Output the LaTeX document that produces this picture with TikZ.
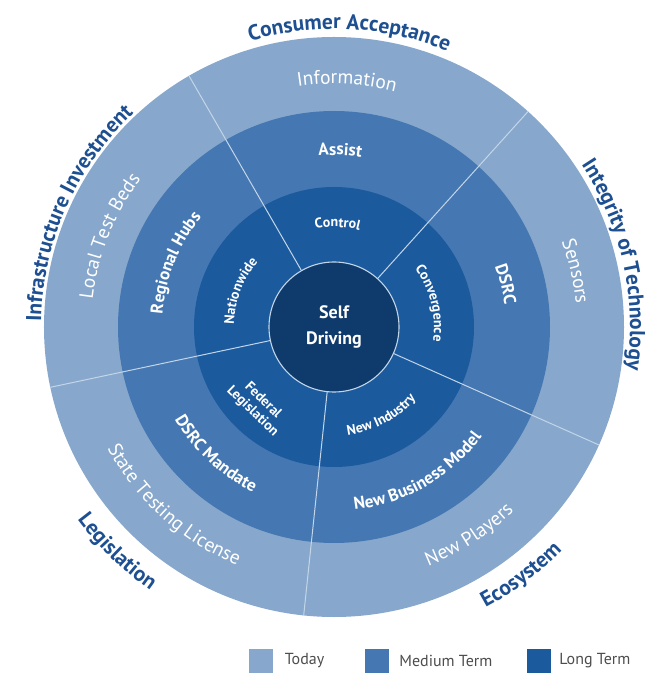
\documentclass[tikz,border=0pt]{standalone}
\usepackage{fontspec}
\setmainfont{PT Sans}
\usetikzlibrary{decorations.text, positioning}

\definecolor{todayblue}{HTML}{87A8CC}
\definecolor{mediumblue}{HTML}{4578B2}
\definecolor{longblue}{HTML}{1C5A9E}
\definecolor{coreblue}{HTML}{0E3B6C}
\definecolor{catblue}{HTML}{1D4F91}
\definecolor{splitline}{HTML}{C3D5E8}
\definecolor{legendgray}{HTML}{4D4D4D}

\newcommand{\todayfont}{\color{white}\fontsize{19.5}{21}\selectfont}
\newcommand{\mediumfont}{\color{white}\bfseries\fontsize{17.2}{19}\selectfont}
\newcommand{\longfont}{\color{white}\bfseries\fontsize{14}{16}\selectfont}
\newcommand{\catfont}{\color{catblue}\bfseries\fontsize{21.5}{23}\selectfont}

% text along a clockwise arc (letters stand outward): angle, baseline radius, font, text
\newcommand{\cwlabel}[4]{%
  \path[decorate, decoration={text along path, text align=center, text={|#3|#4}}]
    ({#1+60}:#2pt) arc[start angle={#1+60}, end angle={#1-60}, radius=#2pt];}
% text along a counterclockwise arc (letters stand inward)
\newcommand{\ccwlabel}[4]{%
  \path[decorate, decoration={text along path, text align=center, text={|#3|#4}}]
    ({#1-60}:#2pt) arc[start angle={#1-60}, end angle={#1+60}, radius=#2pt];}

\tikzset{
  core/.style={circle, fill=coreblue, draw=splitline, line width=1.1pt,
    minimum size=130pt, inner sep=0pt, text=white, align=center,
    font=\bfseries\fontsize{18}{26}\selectfont},
  legendbox/.style={minimum size=24pt, inner sep=0pt},
  legendtext/.style={inner sep=0pt, text=legendgray, font=\fontsize{16}{18}\selectfont}
}

\begin{document}
\begin{tikzpicture}
  \useasboundingbox (-334pt,-347pt) rectangle (330pt,327pt);

  % Rings
  \fill[todayblue] (0,0) circle[radius=290pt];
  \fill[mediumblue] (0,0) circle[radius=216pt];
  \fill[longblue] (0,0) circle[radius=140pt];
  \node[core] (core) at (0,0) {Self\\Driving};

  % Sector dividers
  \foreach \a in {48,120,192,264,336} {
    \draw[splitline, line width=1pt] (core.\a) -- (\a:290pt);
  }

  % Today
  \cwlabel{87}{243}{\todayfont}{Information}
  \cwlabel{158}{243}{\todayfont}{Local Test Beds}
  \cwlabel{13}{243}{\todayfont}{Sensors}
  \ccwlabel{228}{257}{\todayfont}{State Testing License}
  \ccwlabel{-57}{257}{\todayfont}{New Players}

  % Medium term
  \cwlabel{88}{172}{\mediumfont}{Assist}
  \cwlabel{158}{172}{\mediumfont}{Regional Hubs}
  \cwlabel{14}{172}{\mediumfont}{DSRC}
  \ccwlabel{227}{184}{\mediumfont}{DSRC Mandate}
  \ccwlabel{-60}{184}{\mediumfont}{New Business Model}

  % Long term
  \cwlabel{88}{100}{\longfont}{Control}
  \cwlabel{159}{100}{\longfont}{Nationwide}
  \cwlabel{14}{100}{\longfont}{Convergence}
  \ccwlabel{-62}{109}{\longfont}{New Industry}
  \node[text=white, align=center, rotate=316, inner sep=0pt,
    font=\bfseries\fontsize{14}{15}\selectfont] (federal) at (226:110pt) {Federal\\Legislation};

  % Categories
  \cwlabel{87}{298}{\catfont}{Consumer Acceptance}
  \cwlabel{156}{293}{\catfont}{Infrastructure Investment}
  \cwlabel{12.5}{296}{\catfont}{Integrity of Technology}
  \ccwlabel{226}{321}{\catfont}{Legislation}
  \ccwlabel{-53}{319}{\catfont}{Ecosystem}

  % Legend
  \node[legendbox, fill=todayblue] (todaybox) at (-72.5pt,-334pt) {};
  \node[legendtext, right=11pt of todaybox] (todaytext) {Today};
  \node[legendbox, fill=mediumblue] (mediumbox) at (43pt,-334pt) {};
  \node[legendtext, right=10pt of mediumbox] (mediumtext) {Medium Term};
  \node[legendbox, fill=longblue] (longbox) at (205pt,-334pt) {};
  \node[legendtext, right=8pt of longbox] (longtext) {Long Term};
\end{tikzpicture}
\end{document}
